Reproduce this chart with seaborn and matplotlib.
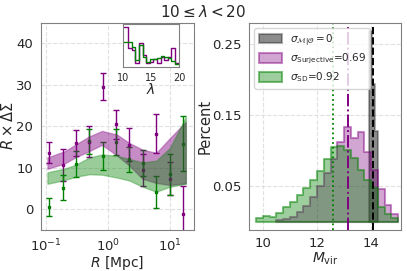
import matplotlib
matplotlib.use("Agg")
import matplotlib.pyplot as plt
import seaborn as sns
import pandas as pd

# ---- left panel: lensing profile ----
r_pts = [0.113, 0.186, 0.305, 0.501, 0.824, 1.35, 2.22, 3.66, 6.0, 9.86, 16.2]
mag_y = [13.6, 10.6, 16.0, 16.3, 29.6, 20.5, 15.6, 9.5, 18.2, 7.3, -1.2]
mag_err = [2.5, 3.8, 3.1, 3.7, 3.2, 3.5, 3.9, 3.8, 4.7, 4.0, 6.7]
grn_y = [0.5, 5.2, 10.9, 16.4, 12.8, 16.2, 12.0, 11.1, 4.2, 8.4, 15.8]
grn_err = [2.2, 3.0, 3.2, 3.0, 3.3, 3.2, 3.0, 3.2, 3.9, 5.0, 6.7]

band_r = [0.105, 0.2, 0.3, 0.5, 0.8, 1.4, 2.2, 3.6, 6.0, 10.0, 18.0]
mag_hi = [12.5, 14.0, 15.6, 17.6, 18.9, 18.0, 16.0, 14.4, 13.6, 17.2, 21.1]
mag_lo = [9.7, 11.0, 12.5, 14.0, 15.5, 12.9, 10.5, 7.3, 6.3, 5.8, 6.2]
grn_hi = [8.9, 9.8, 10.7, 12.5, 13.2, 12.9, 12.1, 11.3, 11.7, 14.8, 22.3]
grn_lo = [6.1, 7.0, 7.8, 8.4, 8.3, 7.6, 6.9, 5.4, 4.2, 5.4, 6.1]

# ---- inset: richness distribution ----
lam_edges = [10.3, 10.94, 11.58, 12.22, 12.86, 13.5, 14.14, 14.78, 15.42,
             16.06, 16.7, 17.34, 17.98, 18.62, 19.26, 19.9]
lam_mag = [120, 55, 50, 10, 72, 35, 10, 15, 22, 10, 30, 20, 30, 55, 10]
lam_grn = [75, 75, 60, 20, 65, 30, 15, 22, 22, 25, 32, 28, 25, 18, 8]

# ---- right panel: mass distributions ----
m_edges_grn = [9.75, 10.0, 10.25, 10.5, 10.75, 11.0, 11.25, 11.5, 11.75, 12.0, 12.25,
               12.5, 12.75, 13.0, 13.25, 13.5, 13.75, 14.0, 14.25, 14.5, 14.75, 15.0]
pct_grn = [0.005, 0.008, 0.006, 0.012, 0.020, 0.027, 0.037, 0.048, 0.059, 0.071, 0.088,
           0.105, 0.106, 0.101, 0.089, 0.073, 0.059, 0.048, 0.020, 0.011, 0.005]
m_edges_mag = [10.5, 10.75, 11.0, 11.25, 11.5, 11.75, 12.0, 12.25, 12.5, 12.75,
               13.0, 13.25, 13.5, 13.75, 14.0, 14.25, 14.5, 14.75, 15.0]
pct_mag = [0.002, 0.004, 0.007, 0.013, 0.022, 0.034, 0.050, 0.068, 0.088, 0.112,
           0.133, 0.118, 0.126, 0.098, 0.073, 0.046, 0.024, 0.011]
m_edges_gry = [13.92, 14.03, 14.14, 14.25]
pct_gry = [0.268, 0.194, 0.128]

mean_grn, mean_mag, mean_gry = 12.58, 13.13, 14.05

labels = {
    "gry": r"$\sigma_{\mathcal{M}|\mathcal{O}}=0$",
    "mag": r"$\sigma_{\rm Surjective}$=0.69",
    "grn": r"$\sigma_{\rm SD}$=0.92",
}


def centers(edges):
    return [(a + b) / 2 for a, b in zip(edges[:-1], edges[1:])]


def rgba(c, a):
    return matplotlib.colors.to_rgba(c, a)


sns.set_style("whitegrid", {"grid.linestyle": "--", "grid.color": "0.88",
                            "axes.edgecolor": "0.5"})

fig = plt.figure(figsize=(4.07, 2.71), dpi=100)
ax1 = fig.add_axes([0.100, 0.152, 0.377, 0.764])
ax2 = fig.add_axes([0.6125, 0.152, 0.3727, 0.764])

# left: data points then model bands on top
ax1.errorbar(r_pts, mag_y, yerr=mag_err, fmt="s", color="purple", ms=2,
             capsize=2, elinewidth=1, capthick=1, zorder=2)
ax1.errorbar(r_pts, grn_y, yerr=grn_err, fmt="s", color="green", ms=2,
             capsize=2, elinewidth=1, capthick=1, zorder=2)
ax1.fill_between(band_r, mag_lo, mag_hi, facecolor=rgba("purple", 0.45),
                 edgecolor=rgba("purple", 0.3), lw=1, zorder=3)
ax1.fill_between(band_r, grn_lo, grn_hi, facecolor=rgba("green", 0.4),
                 edgecolor=rgba("green", 0.3), lw=1, zorder=3)
ax1.set_xscale("log")
ax1.set_xlim(0.082, 24.5)
ax1.set_ylim(-5, 45)
ax1.set_yticks([0, 10, 20, 30, 40])
ax1.set_xlabel(r"$R$ [Mpc]", fontsize=10)
ax1.xaxis.set_label_coords(0.5, -0.118)
ax1.set_ylabel(r"$R\times\Delta\Sigma$", fontsize=10.5, labelpad=0)
ax1.tick_params(labelsize=9.5, pad=2)

# inset
axi = fig.add_axes([0.3015, 0.754, 0.139, 0.1565])
df_in = pd.DataFrame({"lam": centers(lam_edges), "mag": lam_mag, "grn": lam_grn})
sns.histplot(data=df_in, x="lam", weights="mag", bins=lam_edges, element="step",
             fill=False, color="purple", lw=1.0, ax=axi)
sns.histplot(data=df_in, x="lam", weights="grn", bins=lam_edges, element="step",
             fill=False, color="green", lw=1.0, ax=axi)
axi.set_xlim(10, 20)
axi.set_ylim(0, 127)
axi.set_yticks([])
axi.set_ylabel("")
axi.set_xticks([10, 15, 20])
axi.tick_params(labelsize=7, pad=1)
axi.set_xlabel(r"$\lambda$", fontsize=10, labelpad=-1)
axi.grid(False)
for s in axi.spines.values():
    s.set_color("0.5")

# right: mass histograms
hist_kw = dict(element="step", fill=True, stat="count", lw=1.5)
sns.histplot(x=centers(m_edges_gry), weights=pct_gry, bins=m_edges_gry,
             facecolor=rgba("black", 0.45), edgecolor=rgba("black", 0.3),
             label=labels["gry"], ax=ax2, **hist_kw)
sns.histplot(x=centers(m_edges_mag), weights=pct_mag, bins=m_edges_mag,
             facecolor=rgba("purple", 0.35), edgecolor=rgba("purple", 0.45),
             label=labels["mag"], ax=ax2, **hist_kw)
sns.histplot(x=centers(m_edges_grn), weights=pct_grn, bins=m_edges_grn,
             facecolor=rgba("green", 0.38), edgecolor=rgba("green", 0.5),
             label=labels["grn"], ax=ax2, **hist_kw)
ax2.axvline(mean_grn, color="green", ls=":", lw=1.3)
ax2.axvline(mean_mag, color="purple", ls="-.", lw=1.4)
ax2.axvline(mean_gry, color="black", ls="--", lw=1.4)
ax2.set_xlim(9.5, 15.1)
ax2.set_ylim(-0.0115, 0.28)
ax2.set_xticks([10, 12, 14])
ax2.set_yticks([0.05, 0.15, 0.25])
ax2.set_xlabel(r"$M_{\rm vir}$", fontsize=10)
ax2.xaxis.set_label_coords(0.5, -0.1)
ax2.set_ylabel("Percent", fontsize=10.5, labelpad=0)
ax2.tick_params(labelsize=9.5, pad=2)
ax2.legend(loc="upper left", fontsize=7.5, handlelength=2.2, handleheight=1.0,
           borderpad=0.4, labelspacing=0.4)

fig.text(0.5, 0.955, r"$10 \leq \lambda < 20$", ha="center", va="center", fontsize=11)

fig.savefig("out.png", dpi=100)
